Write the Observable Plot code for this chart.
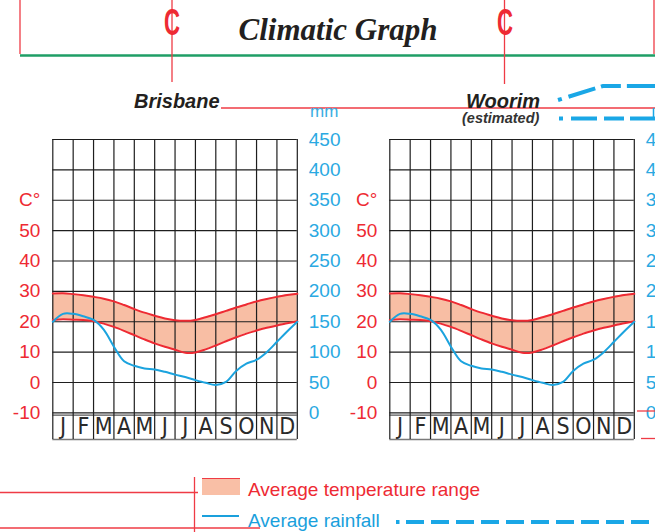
<!DOCTYPE html>
<html><head><meta charset="utf-8">
<script src="https://cdn.jsdelivr.net/npm/d3@7"></script>
<script src="https://cdn.jsdelivr.net/npm/@observablehq/plot@0.6"></script>
<style>
html,body{margin:0;padding:0;background:#fff;overflow:hidden;}
#stage{position:relative;width:655px;height:532px;overflow:hidden;font-family:"Liberation Sans",Arial,sans-serif;}
.panel{position:absolute;top:100px;width:337px;height:345px;}
.panel svg{max-width:none !important;}
#deco{position:absolute;left:0;top:0;z-index:5;}
</style></head><body>
<div id="stage">
<div id="p0" class="panel" style="left:0px"></div>
<div id="p1" class="panel" style="left:337px"></div>
<svg id="deco" width="655" height="532" font-family="Liberation Sans, Arial, sans-serif">
  <!-- title box -->
  <line x1="20" y1="0" x2="20" y2="54" stroke="#ef3b45" stroke-width="1.3"/>
  <line x1="654" y1="0" x2="654" y2="54" stroke="#ef3b45" stroke-width="1.3"/>
  <line x1="20" y1="55.5" x2="655" y2="55.5" stroke="#1f9e66" stroke-width="2.6"/>
  <line x1="172" y1="0" x2="172" y2="82" stroke="#ef3b45" stroke-width="1.3"/>
  <line x1="504.5" y1="0" x2="504.5" y2="84" stroke="#ef3b45" stroke-width="1.3"/>
  <text transform="translate(172,35) scale(0.6,1)" text-anchor="middle" font-size="37" font-weight="bold" fill="#ee2a33">C</text>
  <text transform="translate(505,35) scale(0.6,1)" text-anchor="middle" font-size="37" font-weight="bold" fill="#ee2a33">C</text>
  <text x="338" y="39.5" text-anchor="middle" font-family="Liberation Serif, Times New Roman, serif" font-weight="bold" font-style="italic" font-size="31" fill="#231f20">Climatic Graph</text>
  <!-- station names -->
  <line x1="221" y1="108" x2="655" y2="108" stroke="#ef3b45" stroke-width="1.3"/>
  <text x="134" y="107.5" font-weight="bold" font-style="italic" font-size="20" fill="#231f20">Brisbane</text>
  <text x="466" y="107.5" font-weight="bold" font-style="italic" font-size="20" fill="#231f20">Woorim</text>
  <text x="462" y="123" font-weight="bold" font-style="italic" font-size="14.5" fill="#333">(estimated)</text>
  <text x="310" y="117" font-size="17" fill="#3aaee2">mm</text>
  <path d="M558,100 L603,86 L655,86" fill="none" stroke="#1aa7e6" stroke-width="4" stroke-dasharray="4,7,28,6,20,6,30"/>
  <path d="M559,118.5 L655,118.5" fill="none" stroke="#1aa7e6" stroke-width="4" stroke-dasharray="4,8,26,7,20,6,30"/>
  <line x1="653.5" y1="108" x2="653.5" y2="117" stroke="#1aa7e6" stroke-width="1.5"/>
  <!-- right edge marks -->
  <line x1="637" y1="411" x2="655" y2="411" stroke="#ef3b45" stroke-width="1.3"/>
  <line x1="641" y1="438.5" x2="655" y2="438.5" stroke="#ef3b45" stroke-width="1.3"/>
  <!-- legend -->
  <line x1="194.5" y1="477" x2="194.5" y2="532" stroke="#ef3b45" stroke-width="1.3"/>
  <line x1="0" y1="492.5" x2="198" y2="492.5" stroke="#ef3b45" stroke-width="1.3"/>
  <line x1="0" y1="528" x2="260" y2="528" stroke="#ef3b45" stroke-width="1.3"/>
  <rect x="202" y="478" width="38" height="17" fill="#f9bfa6"/>
  <line x1="202" y1="478.5" x2="240" y2="478.5" stroke="#ef3b45" stroke-width="1.2"/>
  <line x1="202" y1="516" x2="239" y2="516" stroke="#1aa0dc" stroke-width="2"/>
  <text x="248" y="495.5" font-size="19" fill="#ee2a33">Average temperature range</text>
  <text x="248" y="527" font-size="19" fill="#1aa0dc">Average rainfall</text>
  <line x1="396" y1="522" x2="399.5" y2="522" stroke="#1aa7e6" stroke-width="4"/>
  <path d="M406,522 L655,522" fill="none" stroke="#1aa7e6" stroke-width="4" stroke-dasharray="18,7"/>
</svg>
</div>
<script>
// ---- data ----
const months = ["J","F","M","A","M","J","J","A","S","O","N","D"];
const stations = ["Brisbane", "Woorim"];
// position through the year in months (0 = start of January, 12 = end of December)
const monthPos = [0,0.5,1,1.5,2,2.5,3,3.5,4,4.5,5,5.5,6,6.5,7,7.5,8,8.5,9,9.5,10,10.5,11,11.5,12];
// average maximum temperature (°C)
const tempMax = [29.3,29.4,29.1,28.7,28.2,27.6,26.7,25.5,24.2,23.0,22.0,21.1,20.5,20.3,20.6,21.5,22.5,23.6,24.7,25.7,26.7,27.5,28.2,28.8,29.2];
// average minimum temperature (°C)
const tempMin = [20.6,20.8,20.7,20.6,20.2,19.4,18.3,17.0,15.6,14.2,12.9,11.8,10.8,9.8,9.9,10.9,12.2,13.6,14.9,16.1,17.1,18.0,18.8,19.5,20.2];
// average rainfall (mm)
const rainfall = [150,163,163,159,153,137,109,85,77.5,73,71.4,67.6,63,59,54,49.5,46,51,69,81,87.5,100,117,134,150];
const tempTicks = [-10,0,10,20,30,40,50];
const rainTicks = [0,50,100,150,200,250,300,350,400,450];

const RED = "#ee2a33", BAND = "#f8bea4", BLUE = "#1ba3de", BLUE_T = "#2aa9e2", GRID = "#1e1e1e";
const rainToT = mm => mm / 5 - 10;   // 0 mm sits on -10 °C, 50 mm per 10 °C

function panel(station) {
  const rows = monthPos.map((p, i) => ({station, pos: p, max: tempMax[i], min: tempMin[i], rain: rainfall[i]}));
  return Plot.plot({
    width: 337, height: 345,
    marginLeft: 52.3, marginRight: 40.2, marginTop: 39, marginBottom: 32.6,
    x: {domain: [0, 12], axis: null},
    y: {domain: [-10, 80], axis: null},
    style: {background: "transparent", overflow: "visible", maxWidth: "none", fontFamily: "Liberation Sans, Arial, sans-serif"},
    marks: [
      Plot.areaY(rows, {x: "pos", y1: "min", y2: "max", curve: "catmull-rom", fill: BAND}),
      Plot.ruleY(d3.range(0, 81, 10), {x1: 0, x2: 12, stroke: GRID, strokeWidth: 1.2}),
      Plot.ruleY([-10], {x1: 0, x2: 12, stroke: GRID, strokeWidth: 1.3}),
      Plot.ruleY([-10.7], {x1: 0, x2: 12, stroke: "#555", strokeWidth: 1.3}),
      Plot.ruleY([-18.75], {x1: 0, x2: 12, stroke: "#7a7a7a", strokeWidth: 1.6}),
      Plot.ruleX(d3.range(0, 13), {y1: -18.75, y2: 80, stroke: GRID, strokeWidth: 1.2}),
      Plot.line(rows, {x: "pos", y: "max", curve: "catmull-rom", stroke: RED, strokeWidth: 2}),
      Plot.line(rows, {x: "pos", y: "min", curve: "catmull-rom", stroke: RED, strokeWidth: 2}),
      Plot.line(rows, {x: "pos", y: d => rainToT(d.rain), curve: "catmull-rom", stroke: BLUE, strokeWidth: 2}),
      Plot.text(months, {x: (d, i) => i + 0.5, y: -14.4, text: d => d, fontSize: 23,
        fontFamily: "Liberation Sans Narrow, DejaVu Sans Condensed, Arial Narrow, sans-serif", fill: "#2a2a2a", lineAnchor: "middle"}),
      Plot.text(tempTicks, {x: 0, y: d => d, text: d => String(d), dx: -12.5, textAnchor: "end", fontSize: 19, fill: RED, lineAnchor: "middle"}),
      Plot.text(["C°"], {x: 0, y: 60, text: d => d, dx: -12.5, textAnchor: "end", fontSize: 19, fill: RED, lineAnchor: "middle"}),
      Plot.text(rainTicks, {x: 12, y: d => rainToT(d), text: d => String(d), dx: 11.5, textAnchor: "start", fontSize: 19, fill: BLUE_T, lineAnchor: "middle"})
    ]
  });
}
document.getElementById("p0").appendChild(panel(stations[0]));
document.getElementById("p1").appendChild(panel(stations[1]));
</script>
</body></html>
